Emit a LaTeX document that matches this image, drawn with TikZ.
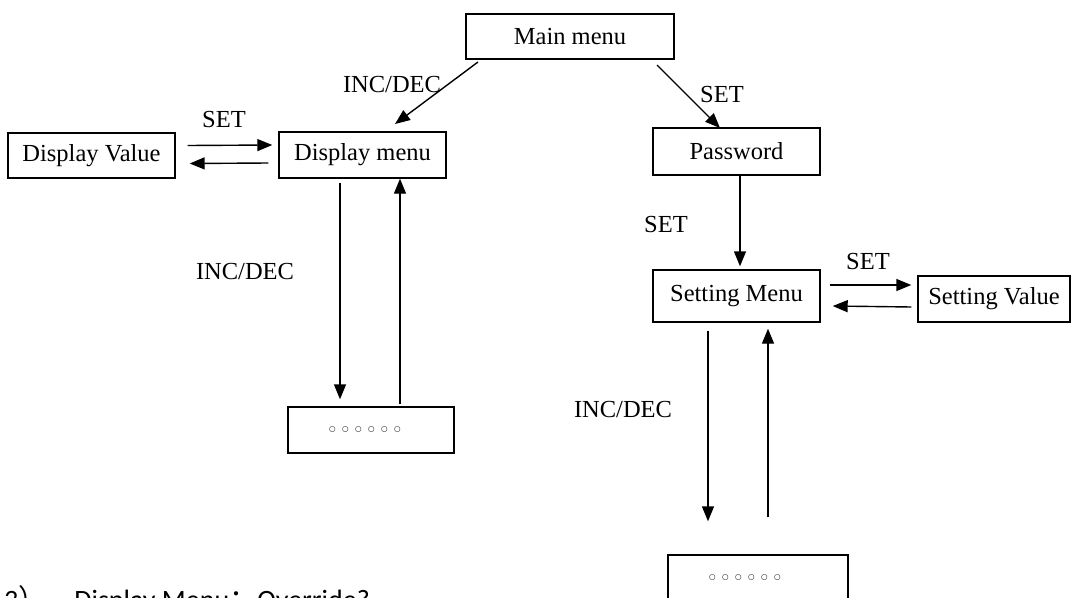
\documentclass[tikz,border=0pt]{standalone}
\usepackage{fontspec}
\setmainfont{Liberation Serif}
\newfontfamily\capfont{Carlito}
\newfontfamily\cjkfont{Noto Sans CJK SC}
\newfontfamily\symfont{DejaVu Sans}
\usetikzlibrary{arrows.meta,calc}
\newcommand\dotc{\makebox[13pt]{\symfont\fontsize{7.5}{8}\selectfont ○}}
\begin{document}
\begin{tikzpicture}[x=1pt,y=-1pt,
  box/.style={draw,line width=1.4pt,rectangle,inner sep=0pt,font=\fontsize{24.5}{28}\selectfont},
  arr/.style={line width=1.4pt,-{Triangle[length=15pt,width=12pt]}},
  lbl/.style={font=\fontsize{24.5}{28}\selectfont,inner sep=0pt}]
\useasboundingbox (0,0) rectangle (1076,597);
\clip (0,0) rectangle (1076,597);
% boxes
\node[box,minimum width=208pt,minimum height=45pt] (main) at (570,36.5) {Main menu};
\node[box,minimum width=167pt,minimum height=46pt] (display) at (362.5,155) {Display menu};
\node[box,minimum width=167pt,minimum height=45pt] (dvalue) at (91.5,155.5) {Display Value};
\node[box,minimum width=166pt,minimum height=46pt] (dots1) at (371,430) {\dotc\dotc\dotc\dotc\dotc\dotc\hspace*{12pt}};
\node[box,minimum width=167pt,minimum height=47pt] (password) at (736.5,151.5) {Password};
\node[box,minimum width=167pt,minimum height=52pt] (setting) at (736.5,296) {Setting Menu};
\node[box,minimum width=152pt,minimum height=46pt] (svalue) at (994,299) {Setting Value};
\node[box,minimum width=180pt,minimum height=46pt] (dots2) at (758,578) {\dotc\dotc\dotc\dotc\dotc\dotc\hspace*{26pt}};
% connector end points
\coordinate (m1) at (478,62);
\coordinate (d1) at (395,124);
\coordinate (m2) at (657,65);
\coordinate (p1) at (720,128);
% main menu branches
\draw[arr] (m1) -- (d1);
\draw[arr] (m2) -- (p1);
\node[lbl] (lincdec1) at (392,85) {INC/DEC};
\node[lbl] (lset1) at (722,95) {SET};
% display value <-> display menu
\draw[arr] ($(dvalue.east)+(12,-10)$) -- ($(display.west)+(-6,-10)$);
\draw[arr] ($(display.west)+(-10,8)$) -- ($(dvalue.east)+(14,8)$);
\node[lbl] (lset2) at (224,120) {SET};
% display menu <-> dots1
\draw[arr] ($(display.south -| 340,0)+(0,4)$) -- ($(dots1.north -| 340,0)+(0,-7)$);
\draw[arr] ($(dots1.north -| 400,0)+(0,-2)$) -- (display.south -| 400,0);
\node[lbl] (lincdec2) at (245,272) {INC/DEC};
% password -> setting
\draw[arr] (password.south -| 740,0) -- ($(setting.north -| 740,0)+(0,-3)$);
\node[lbl] (lset3) at (666,225) {SET};
% setting <-> setting value
\draw[arr] ($(setting.east)+(9,-11)$) -- ($(svalue.west)+(-6,-14)$);
\draw[arr] ($(svalue.west)+(-6,8)$) -- ($(setting.east)+(12,10)$);
\node[lbl] (lset4) at (868,262) {SET};
% setting <-> dots2
\draw[arr] ($(setting.south -| 708,0)+(0,8)$) -- ($(dots2.north -| 708,0)+(0,-33)$);
\draw[arr] ($(dots2.north -| 768,0)+(0,-37)$) -- ($(setting.south -| 768,0)+(0,6)$);
\node[lbl] (lincdec3) at (623,410) {INC/DEC};
% cut-off caption
\node[anchor=base west,inner sep=0pt,font=\capfont\fontsize{28}{33}\selectfont] (caption) at (4,609) {3{\cjkfont ）、}Display Menu{\cjkfont ：}Override?};
\end{tikzpicture}
\end{document}
